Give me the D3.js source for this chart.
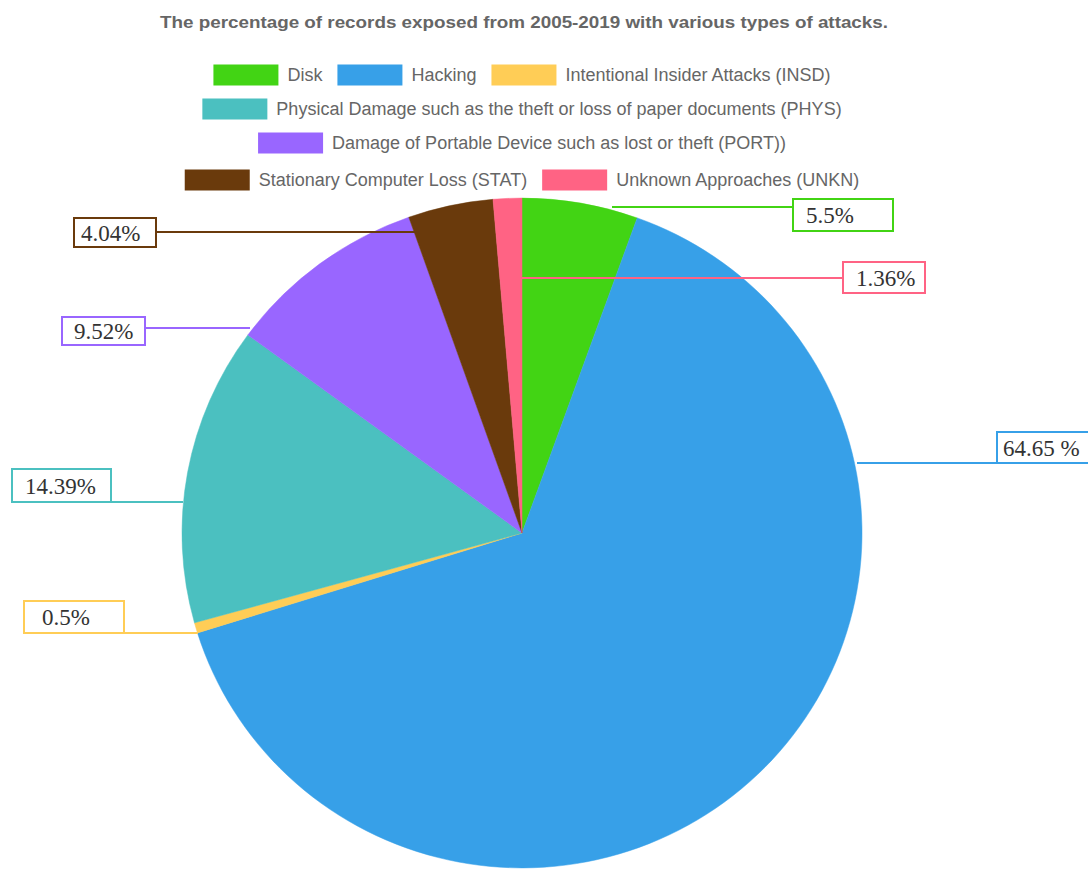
<!DOCTYPE html>
<html>
<head>
<meta charset="utf-8">
<script src="https://cdn.jsdelivr.net/npm/d3@7"></script>
<style>
  body { margin: 0; background: #fff; }
  svg { display: block; }
</style>
</head>
<body>
<script>
const title = "The percentage of records exposed from 2005-2019 with various types of attacks.";
const categories = [
    "Disk",
    "Hacking",
    "Intentional Insider Attacks (INSD)",
    "Physical Damage such as the theft or loss of paper documents (PHYS)",
    "Damage of Portable Device such as lost or theft (PORT))",
    "Stationary Computer Loss (STAT)",
    "Unknown Approaches (UNKN)"
];
const values = [5.5, 64.65, 0.5, 14.39, 9.52, 4.04, 1.36];
const valueLabels = ["5.5%", "64.65 %", "0.5%", "14.39%", "9.52%", "4.04%", "1.36%"];
const colors = ["#42d414", "#37a0e8", "#ffcd56", "#4bc0c0", "#9966ff", "#6a3a0c", "#ff6384"];
const legendRows = [[0, 1, 2], [3], [4], [5, 6]];

// callout layout (box position/size, line height, inner anchor x)
const callouts = [
    {bx: 793, by: 199, bw: 100, bh: 32, ly: 207, ax: 612, tx: 13},
    {bx: 997, by: 432, bw: 100, bh: 31, ly: 463, ax: 857, tx: 6},
    {bx: 24,  by: 601, bw: 100, bh: 32, ly: 633, ax: 198, tx: 18},
    {bx: 12,  by: 469, bw: 99,  bh: 33, ly: 502, ax: 183, tx: 13},
    {bx: 62,  by: 317, bw: 83,  bh: 28, ly: 328, ax: 250, tx: 12},
    {bx: 74,  by: 218, bw: 82,  bh: 29, ly: 232, ax: 415, tx: 7},
    {bx: 843, by: 262, bw: 82,  bh: 31, ly: 278, ax: 522, tx: 13}
];

const width = 1088, height = 870;
const cx = 522, cy = 533, radius = 340;

let svg = d3.select("body").append("svg")
    .attr("width", width)
    .attr("height", height);

svg.append("text")
    .attr("x", 524)
    .attr("y", 28)
    .attr("text-anchor", "middle")
    .attr("textLength", 728)
    .attr("lengthAdjust", "spacingAndGlyphs")
    .style("font-family", "'Liberation Sans', Arial, sans-serif")
    .style("font-weight", "bold")
    .style("font-size", "17px")
    .style("fill", "#666")
    .text(title);

// legend
let legend = svg.append("g");
const boxW = 65, boxH = 21, gapText = 9, itemGap = 15;
const rowY = [75, 109, 143, 180];
legendRows.forEach((row, ri) => {
    let g = legend.append("g");
    let x = 0;
    row.forEach(i => {
        g.append("rect")
            .attr("x", x)
            .attr("y", rowY[ri] - boxH / 2)
            .attr("width", boxW)
            .attr("height", boxH)
            .attr("fill", colors[i]);
        let t = g.append("text")
            .attr("x", x + boxW + gapText)
            .attr("y", rowY[ri])
            .attr("dy", "0.35em")
            .style("font-family", "'Liberation Sans', Arial, sans-serif")
            .style("font-size", "18px")
            .style("fill", "#666")
            .text(categories[i]);
        x += boxW + gapText + t.node().getComputedTextLength() + itemGap;
    });
    let w = x - itemGap;
    g.attr("transform", "translate(" + (cx - w / 2) + ",0)");
});

// pie
let pie = d3.pie().sort(null).value(d => d);
let arc = d3.arc().innerRadius(0).outerRadius(radius);

let slices = svg.append("g")
    .attr("transform", "translate(" + cx + "," + cy + ") scale(1,0.985)");

slices.selectAll("path")
    .data(pie(values))
    .join("path")
    .attr("d", arc)
    .attr("fill", (d, i) => colors[i])
    .attr("stroke", (d, i) => colors[i])
    .attr("stroke-width", 0.5);

// callouts
let co = svg.append("g");
callouts.forEach((c, i) => {
    let right = c.bx > cx;
    co.append("line")
        .attr("x1", c.ax)
        .attr("y1", c.ly)
        .attr("x2", right ? c.bx : c.bx + c.bw)
        .attr("y2", c.ly)
        .attr("stroke", colors[i])
        .attr("stroke-width", 2);
});
callouts.forEach((c, i) => {
    co.append("rect")
        .attr("x", c.bx)
        .attr("y", c.by)
        .attr("width", c.bw)
        .attr("height", c.bh)
        .attr("fill", "#fff")
        .attr("stroke", colors[i])
        .attr("stroke-width", 2);
    co.append("text")
        .attr("x", c.bx + c.tx)
        .attr("y", c.by + c.bh / 2)
        .attr("dy", "0.35em")
        .style("font-family", "'Liberation Serif', 'Times New Roman', serif")
        .style("font-size", "23px")
        .style("fill", "#333")
        .text(valueLabels[i]);
});
</script>
</body>
</html>
